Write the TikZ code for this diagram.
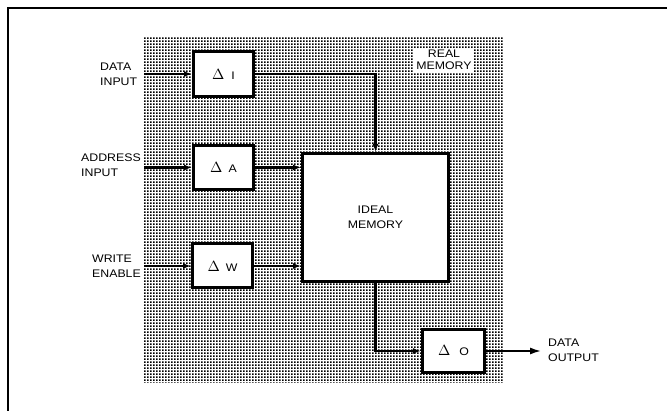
\documentclass[tikz,border=0pt]{standalone}
\usepackage{fontspec}
\setmainfont{Liberation Sans}[FakeStretch=1.12]
\usetikzlibrary{patterns.meta,arrows.meta}
\tikzdeclarepattern{
  name=memdots,
  type=uncolored,
  bottom left={(0pt,0pt)},
  top right={(3pt,3pt)},
  tile size={(3pt,3pt)},
  code={\fill (0pt,0pt) rectangle (2.1pt,2.1pt);}
}
\newcommand{\dlt}{\scalebox{1.35}{$\Delta$}}
\tikzset{
  delaybox/.style={draw=black, line width=3pt, fill=white, minimum width=60pt, minimum height=44pt, inner sep=0pt, font=\fontsize{11}{15}\selectfont},
  membox/.style={draw=black, line width=3pt, fill=white, minimum width=146pt, minimum height=128pt, inner sep=0pt, align=center, font=\fontsize{11}{15}\selectfont},
  lbl/.style={anchor=west, inner sep=0pt, align=left, font=\fontsize{11}{15}\selectfont},
  conn/.style={line width=2.4pt, -{Latex[length=8pt,width=6pt]}},
  outconn/.style={line width=1.6pt, -{Latex[length=11pt,width=7pt]}}
}
\begin{document}
\begin{tikzpicture}[x=1pt,y=-1pt]
\useasboundingbox (0,0) rectangle (667,411);
\fill[white] (0,0) rectangle (667,411);
% frame
\draw[line width=1.5pt] (8,411) -- (8,8) -- (667,8);
% real memory shaded region
\path[pattern={memdots}, pattern color=black] (144,38) rectangle (503,383);
\node[fill=white, inner sep=2pt, align=center, font=\fontsize{11}{12}\selectfont] (real) at (444,60) {REAL\\MEMORY};
% boxes
\node[delaybox, minimum height=45pt] (dI) at (223.5,74) {\dlt\hspace{7pt}I};
\node[delaybox] (dA) at (223.5,167.5) {\dlt\hspace{6pt}A};
\node[delaybox] (dW) at (222.5,266) {\dlt\hspace{6pt}W};
\node[membox] (ideal) at (375.5,217.5) {IDEAL\\MEMORY};
\node[delaybox, minimum width=62pt, minimum height=43pt] (dO) at (453.5,351) {\dlt\hspace{9pt}O};
% labels
\node[lbl] (tDI) at (100,74.5) {DATA\\INPUT};
\node[lbl] (tAI) at (81,165) {ADDRESS\\INPUT};
\node[lbl] (tWE) at (92,266.5) {WRITE\\ENABLE};
\node[lbl] (tDO) at (548,350.5) {DATA\\OUTPUT};
% input coordinates
\coordinate (inI) at (144,74);
\coordinate (inA) at (144,167.5);
\coordinate (inW) at (144,266);
\coordinate (outO) at (541,351);
% connectors
\draw[conn] (inI) -- (dI.west);
\draw[conn] (inA) -- (dA.west);
\draw[conn] (inW) -- (dW.west);
\draw[conn] (dI.east) -| (ideal.north);
\draw[conn] (dA.east) -- (dA.east -| ideal.west);
\draw[conn] (dW.east) -- (dW.east -| ideal.west);
\draw[conn] (ideal.south) |- (dO.west);
\draw[outconn] (dO.east) -- (outO);
\end{tikzpicture}
\end{document}
